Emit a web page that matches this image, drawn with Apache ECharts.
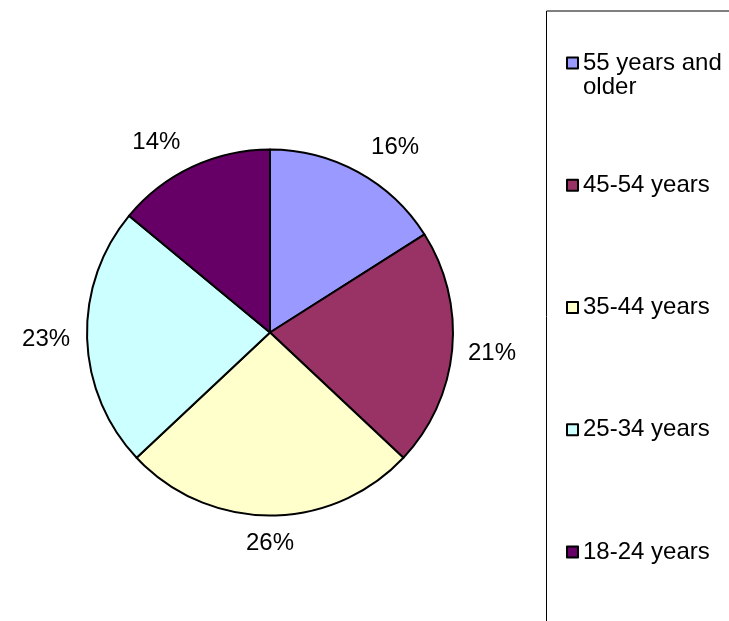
<!DOCTYPE html>
<html>
<head>
<meta charset="utf-8">
<script src="https://cdn.jsdelivr.net/npm/echarts@6/dist/echarts.min.js"></script>
<style>
  html, body { margin: 0; padding: 0; background: #fff; }
  #main { width: 729px; height: 621px; }
</style>
</head>
<body>
<div id="main"></div>
<script>
// data (shares in %)
var ageGroups = ['55 years and older', '45-54 years', '35-44 years', '25-34 years', '18-24 years'];
var shares = [16, 21, 26, 23, 14];
var sliceColors = ['#9999FF', '#993366', '#FFFFCC', '#CCFFFF', '#660066'];

// leader lengths so the percent labels sit where Excel put them
var labelLen = [28.8, 40, 27.5, 41, 27.5];
var labelLen2 = [23, 0, 0, 0, 24];

var font = 'Liberation Sans, Arial, sans-serif';

var pieData = ageGroups.map(function (name, i) {
    return {
        name: name,
        value: shares[i],
        itemStyle: { color: sliceColors[i] },
        labelLine: { show: false, length: labelLen[i], length2: labelLen2[i] }
    };
});

var legendData = ageGroups.map(function (name, i) {
    // the wrapped first entry gets a blank top line instead of padding,
    // so its first line stays level with the square
    return {
        name: name,
        textStyle: { padding: i === 0 ? 0 : [24, 0, 24, 0] }
    };
});

var chart = echarts.init(document.getElementById('main'));

var option = {
    backgroundColor: '#fff',
    animation: false,
    graphic: [
        {
            type: 'rect',
            shape: { x: 546.5, y: 11, width: 300, height: 700 },
            style: { fill: 'none', stroke: '#000', lineWidth: 1 },
            silent: true
        }
    ],
    legend: {
        orient: 'vertical',
        left: 566,
        top: 27,
        padding: 0,
        itemGap: 50.25,
        itemWidth: 11,
        itemHeight: 11,
        icon: 'rect',
        selectedMode: false,
        itemStyle: { borderColor: '#000', borderWidth: 2 },
        textStyle: {
            fontFamily: font,
            fontSize: 24,
            lineHeight: 24,
            color: '#000'
        },
        formatter: function (name) {
            return name === '55 years and older' ? '\n55 years and\nolder' : name;
        },
        data: legendData
    },
    series: [
        {
            type: 'pie',
            center: [270, 332.5],
            radius: 183,
            startAngle: 90,
            clockwise: true,
            avoidLabelOverlap: false,
            itemStyle: { borderColor: '#000', borderWidth: 2 },
            emphasis: { disabled: true },
            label: {
                show: true,
                position: 'outside',
                alignTo: 'none',
                distanceToLabelLine: -24,
                formatter: '{c}%',
                fontFamily: font,
                fontSize: 24,
                color: '#000'
            },
            labelLine: { show: false },
            data: pieData
        }
    ]
};

chart.setOption(option);
</script>
</body>
</html>
